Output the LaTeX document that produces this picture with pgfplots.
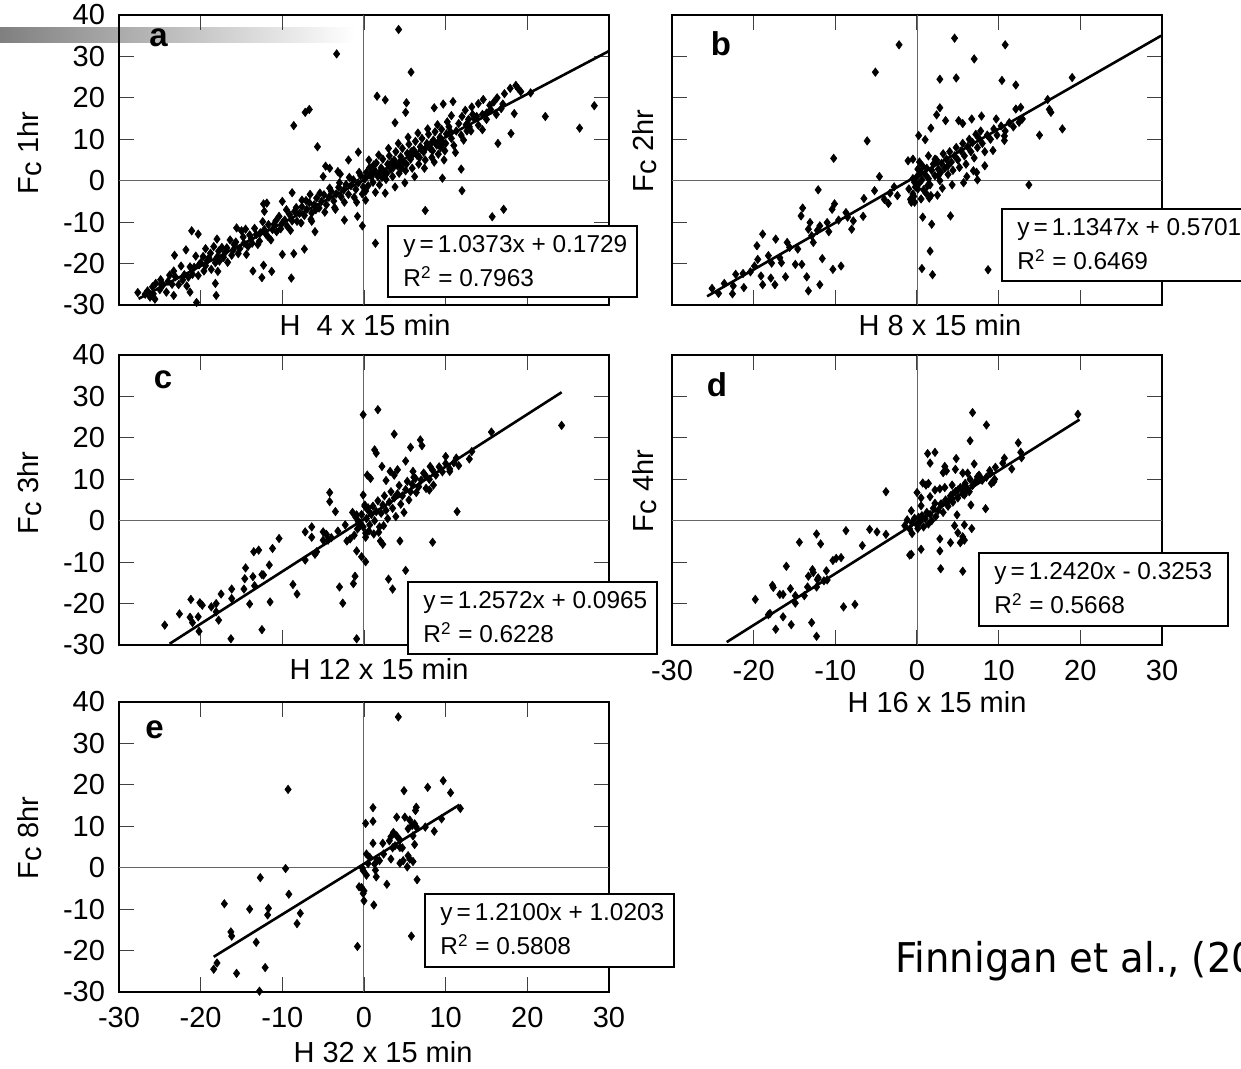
\documentclass[border=0pt]{standalone}
\usepackage{fontspec}
\setmainfont{Liberation Sans}
\newfontfamily\tahoma[FakeStretch=0.94]{DejaVu Sans}
\usepackage{pgfplots}
\pgfplotsset{compat=1.18}
\pgfplotsset{
  panel/.style={
    scale only axis, width=245pt, height=145pt, anchor=south west,
    xmin=-30, xmax=30, ymin=-30, ymax=40,
    xtick={-30,-20,...,30}, ytick={-30,-20,...,40},
    tick align=inside, major tick length=7.5pt,
    tick style={black!75, line width=0.6pt},
    axis line style={black, line width=0.9pt},
    ticklabel style={font=\fontsize{14.5}{17}\selectfont},
    /pgf/number format/assume math mode=true,
    xticklabel style={yshift=-4pt}, yticklabel style={xshift=-3.5pt},
  },
  pts/.style={only marks, mark=diamond*, mark size=2.1pt, black, mark options={fill=black, draw=black, line width=0.3pt}},
  reg/.style={black, line width=1.3pt},
}
\newcommand{\zerolines}{%
  \draw[black!60, line width=0.5pt] (axis cs:0,-30) -- (axis cs:0,40);
  \draw[black!60, line width=0.5pt] (axis cs:-30,0) -- (axis cs:30,0);}
\begin{document}
\begin{tikzpicture}
\path[use as bounding box] (0,0) rectangle (620.5pt,534.5pt);
\begin{scope}[shift={(0pt,534.5pt)}, x=0.5pt, y=-0.5pt]
\shade[left color=black!50, right color=white] (0,28) rectangle (355,43);
\end{scope}

% ---------- panel a ----------
\begin{axis}[panel, at={(59.5pt,382pt)}, xticklabels={}]
\zerolines
\addplot[pts] table {
4.24 36.5
-3.35 30.6
5.76 26.2
28.2 18.1
26.4 12.7
22.2 15.5
20.4 21.2
17.9 22.3
18.9 22.2
16.4 9.0
18.0 11.4
18.4 16.2
1.6 20.4
2.6 19.5
-7.2 16.5
-6.7 17.2
-8.6 13.3
-5.7 8.2
11.9 2.8
12.0 -2.4
9.6 0.6
7.5 -7.2
15.7 -8.7
17.1 -6.9
1.4 -15.1
-0.2 -10.9
-0.8 -8.6
14.5 12.3
14.0 18.6
15.9 19.0
3.8 14.0
5.1 16.5
5.2 18.8
8.6 17.6
9.7 18.5
10.9 19.1
10.7 15.7
-27.7 -27.0
-25.6 -28.6
-25.9 -25.6
-24.8 -25.1
-23.3 -27.7
-20.5 -29.4
-18.1 -27.7
-18.2 -24.8
-21.3 -26.9
-23.2 -18.0
-21.8 -16.7
-21.1 -12.1
-20.3 -12.9
-19.4 -16.4
-18.0 -14.1
-17.9 -21.9
-15.6 -11.4
-14.5 -11.7
-13.6 -21.8
-12.5 -23.4
-12.3 -20.4
-11.3 -21.9
-8.9 -23.5
-10.0 -17.8
-8.6 -17.6
-7.3 -16.5
-12.3 -5.6
-11.9 -5.4
-12.2 -7.4
-10.0 -5.0
-8.8 -2.9
-6.6 -3.3
-7.6 -4.7
-6.0 -12.3
-6.4 -9.8
-4.7 3.5
-4.2 3.0
-5.0 1.0
-1.9 5.0
-0.7 6.9
-3.2 2.2
-2.9 1.6
-3.5 -6.9
-2.4 -9.5
0.2 -4.7
-0.9 -5.2
-26.8 -27.4
-26.2 -28.1
-25.5 -24.8
-25.0 -26.3
-24.6 -25.1
-24.2 -26.9
-23.8 -22.8
-23.5 -25.0
-23.1 -23.2
-22.7 -25.1
-22.4 -20.6
-22.0 -22.7
-21.7 -25.4
-21.3 -20.8
-21.0 -22.6
-20.6 -18.2
-20.3 -22.9
-20.0 -19.8
-19.7 -18.3
-19.4 -20.5
-19.0 -18.6
-18.7 -21.4
-18.4 -15.9
-18.0 -18.5
-17.7 -19.4
-17.4 -16.1
-17.0 -17.3
-16.7 -19.7
-16.4 -14.3
-16.0 -16.7
-15.7 -14.8
-15.4 -17.6
-15.0 -12.1
-14.7 -15.1
-14.4 -17.8
-14.0 -13.1
-13.7 -15.1
-13.4 -11.5
-13.0 -15.4
-12.7 -12.6
-12.4 -9.9
-12.0 -12.9
-11.7 -10.6
-11.4 -14.3
-11.0 -10.5
-10.7 -12.3
-10.4 -8.6
-10.0 -10.2
-26.5 -26.6
-25.8 -27.3
-24.9 -23.9
-24.0 -24.3
-23.3 -21.8
-22.2 -24.0
-21.5 -23.3
-20.8 -20.9
-20.2 -20.3
-19.6 -21.8
-19.2 -19.3
-18.8 -17.5
-18.2 -19.8
-17.8 -17.0
-17.2 -18.5
-16.8 -16.2
-16.2 -18.0
-15.9 -15.4
-15.2 -16.4
-14.8 -13.6
-14.2 -15.9
-13.8 -14.0
-13.2 -13.0
-12.8 -14.6
-12.2 -11.8
-11.8 -13.4
-11.2 -11.8
-10.8 -9.7
-10.2 -11.6
-9.7 -9.5
-9.4 -11.0
-9.1 -8.2
-8.8 -9.7
-8.5 -7.4
-8.2 -9.8
-7.9 -7.9
-7.6 -6.3
-7.3 -8.4
-7.0 -6.9
-6.7 -5.3
-6.4 -7.8
-6.1 -5.8
-5.8 -4.2
-5.5 -6.6
-5.2 -5.0
-4.9 -3.4
-4.6 -5.8
-4.3 -4.0
-4.0 -2.6
-3.7 -4.9
-3.4 -3.2
-3.1 -1.6
-2.8 -3.9
-2.5 -2.3
-2.2 -0.9
-1.9 -3.3
-1.6 -1.2
-1.3 0.2
-1.0 -2.1
-0.7 -0.5
-0.4 1.2
-0.1 -1.5
-9.5 -7.0
-9.0 -12.0
-8.3 -6.5
-7.7 -10.2
-7.1 -4.8
-6.5 -9.3
-5.9 -7.0
-5.4 -3.0
-4.8 -7.6
-4.2 -1.8
-3.6 -6.5
-3.0 -0.5
-2.4 -5.2
-1.8 0.8
-1.2 -4.0
-0.6 2.0
-0.2 -3.2
0.1 0.4
0.3 2.0
0.5 -1.2
0.7 3.2
0.9 0.9
1.1 -0.4
1.3 2.5
1.5 4.3
1.7 1.0
1.9 -1.0
2.1 3.1
2.3 5.2
2.5 2.0
2.7 0.3
2.9 4.0
3.1 6.0
3.3 2.8
3.5 1.0
3.7 5.0
3.9 7.0
4.1 3.6
4.3 1.8
4.5 5.8
4.7 7.8
4.9 4.4
5.1 2.4
5.3 6.6
5.5 8.8
5.7 5.2
5.9 3.0
6.1 7.4
6.3 9.5
6.5 6.1
6.7 4.0
6.9 8.2
7.1 10.2
7.3 6.9
7.5 5.0
7.7 9.0
7.9 11.2
8.1 7.8
8.3 5.6
8.5 9.8
8.7 11.8
8.9 8.6
9.1 6.4
9.3 10.5
9.5 12.4
9.7 9.2
9.9 7.2
10.1 11.3
10.4 13.0
10.7 10.2
11.0 8.5
11.3 12.0
11.6 13.8
11.9 11.0
12.2 9.8
12.5 13.5
12.8 14.8
13.1 12.0
13.5 15.0
14.0 13.4
14.5 16.0
15.0 14.8
15.5 17.2
16.2 16.0
17.0 18.5
0.2 -2.5
0.6 5.0
1.0 1.8
1.4 -2.8
1.8 6.2
2.2 0.8
2.6 -3.0
3.0 7.8
3.4 4.4
3.8 -1.5
4.2 9.0
4.6 3.0
5.0 -0.5
5.4 10.5
5.8 7.0
6.2 1.0
6.6 11.5
7.0 7.5
7.4 3.0
7.8 12.5
8.2 9.0
8.6 4.5
9.0 13.5
9.4 8.0
9.8 5.0
10.2 14.2
10.6 11.8
11.2 6.8
12.0 15.5
12.6 12.0
13.3 16.0
0.4 1.2
1.2 3.8
2.0 2.2
2.8 1.8
3.6 3.2
4.4 4.6
5.2 4.0
6.0 6.4
6.8 5.6
7.6 8.0
8.4 7.2
9.2 9.6
10.0 9.0
12.4 17.0
13.2 17.8
14.6 19.6
15.4 18.2
16.3 20.0
17.2 21.0
18.6 23.0
19.2 21.5
16.8 17.4
13.8 15.5
12.9 13.0
15.0 16.3
};
\addplot[reg] coordinates {(-27.6,-28.5) (30,31.3)};
\end{axis}

% ---------- panel b ----------
\begin{axis}[panel, at={(336pt,382pt)}, xticklabels={}, yticklabels={}]
\zerolines
\addplot[pts] table {
4.6 34.4
-2.2 32.8
10.8 32.8
7.0 29.4
-5.1 26.2
2.8 24.5
4.8 24.8
10.4 24.2
12.1 23.1
19.0 24.9
16.0 19.6
16.2 17.2
16.4 16.5
17.8 12.5
15.0 11.0
12.1 17.3
12.7 17.7
12.5 14.1
12.9 14.9
-6.1 9.6
-10.2 5.4
-4.6 1.0
-12.1 -2.2
-5.2 -2.4
13.7 -1.0
7.4 0.2
0.7 -8.8
1.8 -10.5
4.1 -8.5
1.6 -17.0
0.6 -21.2
1.9 -22.7
8.7 -21.5
10.7 10.8
2.8 17.6
2.4 15.9
3.5 14.5
1.7 12.7
5.1 14.5
5.6 13.8
6.7 14.9
7.9 15.6
9.7 14.9
0.2 10.9
1.0 9.9
-1.1 4.8
-3.5 -5.5
-2.4 -3.6
-0.7 -4.8
-0.3 -5.2
-6.5 -4.3
-6.6 -8.6
-7.8 -9.7
-8.0 -11.7
-8.7 -7.7
-10.1 -5.6
-10.4 -6.9
-11.0 -10.1
-10.8 -12.3
-11.9 -10.9
-14.0 -6.6
-14.2 -8.5
-13.1 -10.1
-13.3 -11.7
-11.6 -18.8
-10.3 -21.4
-9.3 -20.6
-14.9 -20.2
-14.1 -20.2
-13.5 -23.2
-11.9 -25.1
-13.3 -26.6
-16.1 -23.2
-17.4 -25.1
-18.9 -25.1
-17.9 -23.5
-19.1 -23.0
-18.9 -12.9
-19.6 -15.7
-17.3 -14.1
-21.2 -25.8
-22.6 -27.3
-22.5 -25.4
-25.1 -26.0
-22.2 -22.6
-21.3 -22.4
-19.9 -20.6
-19.5 -19.0
-18.2 -18.1
-17.8 -19.9
-16.6 -19.8
-15.9 -14.9
-15.6 -16.1
-14.6 -16.5
-12.9 -13.3
-12.7 -14.9
-1.0 -2.0
-0.5 0.5
-0.2 -1.5
0.0 1.0
0.2 -0.8
0.4 2.0
0.6 0.2
0.8 -2.2
1.0 1.5
1.2 3.0
1.4 0.5
1.6 -1.0
1.8 2.5
2.0 4.0
2.2 1.2
2.4 5.0
2.6 2.8
2.8 0.0
3.0 4.2
3.2 6.5
3.4 3.0
3.6 5.2
3.8 1.5
4.0 7.0
4.2 4.5
4.4 2.5
4.6 6.0
4.8 8.0
5.0 5.0
5.2 3.2
5.4 7.2
5.6 9.0
5.8 6.0
6.0 4.0
6.2 8.2
6.4 10.0
6.6 7.0
6.8 9.2
7.0 5.5
7.2 11.2
7.4 8.0
7.6 10.2
7.8 12.0
8.0 9.0
8.3 7.0
8.6 11.0
9.0 10.0
9.4 12.5
9.8 11.0
10.3 13.2
10.8 12.0
11.3 14.0
11.8 13.0
0.3 4.5
0.7 3.5
1.1 -3.0
-0.8 -4.5
-0.4 -3.8
1.5 -4.2
2.5 -3.5
3.1 -1.8
4.3 -1.0
5.7 -0.5
6.1 1.0
6.9 2.4
7.3 2.0
8.3 3.6
9.3 7.3
10.7 9.7
-0.5 5.2
0.1 2.8
0.5 2.0
-0.3 -0.4
0.1 -2.0
-0.5 -3.2
-0.7 -5.2
0.5 -4.4
1.7 -3.6
1.3 -1.2
2.6 1.2
2.9 2.0
3.8 3.6
2.2 5.2
1.4 6.0
-2.8 -1.5
-3.3 -3.0
-4.0 -4.5
-8.5 -8.8
-9.6 -9.5
-20.4 -22.0
-23.6 -24.8
-24.3 -27.2
-16.8 -18.6
-12.2 -12.0
};
\addplot[reg] coordinates {(-25.7,-27.9) (29.9,35.0)};
\end{axis}

% ---------- panel c ----------
\begin{axis}[panel, at={(59.5pt,212pt)}, xticklabels={}]
\zerolines
\addplot[pts] table {
-0.1 25.6
1.7 26.8
24.2 23.0
3.7 20.9
15.6 21.4
6.9 19.5
7.1 18.1
5.7 17.7
1.3 17.1
1.5 16.3
5.1 14.4
10.0 15.5
11.3 15.1
13.2 16.7
12.9 14.9
11.6 13.3
10.5 11.9
8.1 13.1
2.2 13.1
3.2 11.9
4.1 12.3
3.7 11.0
0.4 11.0
0.8 10.2
2.7 9.7
6.0 11.9
6.3 10.2
7.5 11.0
8.5 8.6
8.0 7.4
-4.2 6.8
-4.2 4.6
-3.5 2.2
11.4 2.2
8.4 -5.2
4.4 -4.9
2.0 -4.9
2.3 -5.7
0.2 -4.0
-0.9 -7.3
-0.3 -8.7
0.2 -9.9
5.1 -12.0
3.0 -14.1
3.5 -16.5
-1.1 -13.4
-1.3 -15.2
-3.0 -16.0
-2.6 -19.9
-0.9 -28.5
-8.7 -15.4
-8.2 -17.7
-11.5 -19.6
-12.5 -26.3
-16.3 -28.5
-20.2 -26.7
-24.4 -25.2
-22.6 -22.5
-21.2 -19.0
-21.3 -23.3
-21.0 -24.6
-20.3 -23.2
-20.1 -19.8
-19.8 -20.4
-18.7 -20.8
-18.1 -20.0
-18.1 -22.0
-17.8 -24.0
-17.5 -17.7
-16.2 -16.5
-16.2 -18.8
-14.6 -14.0
-14.7 -16.5
-14.0 -20.1
-14.5 -11.4
-13.6 -13.5
-13.4 -15.7
-12.5 -13.0
-12.3 -13.1
-13.5 -7.5
-12.9 -7.1
-11.6 -10.7
-11.2 -6.7
-10.4 -4.3
-7.2 -2.7
-6.4 -1.5
-6.4 -4.0
-7.2 -9.5
-6.0 -8.1
-5.8 -7.5
-5.0 -2.7
-4.6 -3.3
-4.4 -4.7
-4.0 -4.1
-5.0 -4.7
-3.2 -2.5
-2.3 -1.0
-2.1 -4.9
-1.7 -4.4
-1.4 2.0
-0.7 -0.2
-0.6 -1.5
-0.9 1.4
0.1 3.8
0.5 3.1
-0.1 6.2
0.3 0.5
0.5 2.5
0.7 -1.0
0.9 1.5
1.1 3.5
1.3 0.0
1.5 2.2
1.7 4.8
1.9 -1.5
2.1 1.8
2.3 3.8
2.5 6.0
2.7 2.5
2.9 0.5
3.1 4.5
3.3 7.0
3.5 3.0
3.7 5.5
3.9 1.0
4.1 6.5
4.3 8.5
4.5 4.0
4.7 6.0
4.9 2.0
5.1 7.5
5.3 9.5
5.5 5.0
5.7 7.0
5.9 8.8
6.1 10.5
6.4 6.8
6.7 8.2
7.0 9.8
7.3 11.5
7.6 7.8
8.0 10.0
8.4 12.2
8.8 11.0
9.2 13.0
9.6 11.8
10.0 13.8
10.5 12.5
11.0 14.0
-0.5 -0.5
-0.8 -2.0
-1.0 0.8
-1.2 -3.5
-0.3 1.5
-0.1 -1.5
0.1 3.5
0.2 -3.0
0.6 -2.5
1.2 -3.2
1.8 -2.8
2.4 -1.2
};
\addplot[reg] coordinates {(-23.8,-29.7) (24.2,31.0)};
\end{axis}

% ---------- panel d ----------
\begin{axis}[panel, at={(336pt,212pt)}, yticklabels={}]
\zerolines
\addplot[pts] table {
19.7 25.7
6.8 26.1
8.5 23.1
6.5 19.3
12.4 18.8
12.7 16.5
12.8 15.2
10.7 15.1
10.5 13.9
11.6 12.5
9.6 12.9
8.9 12.1
1.3 16.2
2.2 16.5
1.6 13.9
4.8 15.0
7.0 13.7
3.4 13.1
3.2 11.6
3.6 12.0
4.7 12.4
5.6 11.5
6.2 11.5
7.4 10.6
7.9 9.9
9.4 9.4
9.1 9.0
0.7 9.1
1.4 9.0
1.1 8.6
2.2 7.4
2.8 7.7
3.4 8.0
-3.8 7.0
8.4 2.9
6.6 3.8
4.9 1.4
-0.7 2.4
0.5 3.6
2.2 4.2
3.0 4.0
3.8 4.6
4.2 5.4
0.0 6.8
0.5 5.5
1.6 5.8
4.3 8.6
4.4 6.5
5.0 7.4
5.6 7.8
6.0 8.2
5.8 6.2
6.4 7.0
4.6 -1.2
5.8 -1.0
6.7 -1.9
5.0 -2.9
5.6 -3.9
5.8 -4.7
5.3 -5.3
4.1 -5.3
2.8 -4.4
2.8 -7.3
0.5 -6.9
-0.7 -8.1
-0.9 -8.3
-0.6 -3.1
0.1 -1.9
2.9 -11.6
5.6 -12.2
-3.8 -3.3
-4.9 -2.7
-5.8 -2.1
-8.7 -2.4
-6.7 -6.0
-12.3 -3.2
-11.8 -5.6
-14.4 -5.2
-9.3 -8.9
-9.9 -9.1
-10.3 -9.6
-16.0 -11.0
-12.8 -11.8
-12.7 -12.5
-13.3 -13.4
-11.1 -12.1
-12.1 -13.8
-11.4 -14.5
-11.0 -14.3
-17.7 -15.6
-17.6 -16.1
-16.8 -17.8
-16.4 -17.8
-15.5 -16.4
-14.9 -18.1
-14.9 -19.9
-13.8 -18.1
-13.4 -16.0
-12.3 -16.0
-12.2 -14.2
-19.8 -19.0
-18.2 -22.7
-18.0 -22.4
-16.4 -23.2
-17.3 -26.2
-15.4 -25.1
-12.9 -24.6
-12.3 -27.9
-9.0 -20.8
-7.6 -20.2
-1.5 -1.2
-1.2 0.2
-0.9 -2.0
-0.6 -0.5
-0.3 0.6
0.0 -1.0
0.2 0.8
0.4 -0.2
0.6 1.2
0.8 -1.5
1.0 0.5
1.2 2.0
1.4 -0.8
1.6 1.5
1.8 0.0
2.0 3.0
2.3 1.0
2.6 2.5
2.9 4.0
3.2 2.0
3.5 5.0
3.8 3.5
4.1 6.0
4.4 4.5
4.7 7.0
5.0 5.5
5.3 8.0
5.6 6.5
5.9 9.0
6.2 7.5
6.5 10.0
6.8 8.5
7.2 9.5
7.6 11.0
8.0 9.8
8.5 10.5
9.0 11.5
9.5 10.0
};
\addplot[reg] coordinates {(-23.3,-29.3) (19.9,24.4)};
\end{axis}

% ---------- panel e ----------
\begin{axis}[panel, at={(59.5pt,38.5pt)}]
\zerolines
\addplot[pts] table {
4.2 36.4
-9.3 18.9
9.7 21.0
7.8 19.4
10.6 18.1
4.9 18.6
11.8 14.3
1.1 14.5
6.4 14.6
6.3 13.8
4.0 12.2
5.0 12.2
5.6 11.5
5.9 10.2
6.2 10.6
6.4 9.8
5.4 9.4
6.0 7.7
9.5 11.8
8.6 8.8
7.5 9.8
0.2 10.7
1.1 11.2
3.6 8.5
3.3 7.5
4.0 7.7
3.1 6.5
4.4 6.7
4.4 4.9
3.8 5.3
4.7 4.8
3.5 4.8
2.3 5.9
1.1 5.9
2.4 3.3
3.3 2.1
4.8 1.7
5.4 2.9
5.6 2.1
6.0 1.5
5.3 0.2
4.4 1.1
6.2 5.6
0.3 3.3
0.7 2.5
1.6 1.9
1.9 1.7
1.3 0.9
0.5 1.0
-0.2 -0.1
-0.1 -0.7
0.3 -1.8
1.4 -0.6
1.5 -2.2
2.8 -4.0
6.5 -2.9
-0.6 -4.6
-0.3 -4.8
0.0 -5.6
-0.1 -6.2
0.0 -8.0
1.2 -9.0
5.8 -16.5
-0.8 -19.0
-9.6 -0.2
-12.7 -2.4
-9.2 -6.4
-17.1 -8.7
-14.0 -10.0
-11.7 -9.8
-11.8 -11.4
-7.8 -11.0
-8.2 -13.5
-16.3 -15.5
-16.2 -16.5
-13.2 -18.0
-18.0 -23.0
-18.4 -24.5
-15.6 -25.5
-12.1 -24.1
-12.8 -29.8
};
\addplot[reg] coordinates {(-18.4,-21.5) (11.7,15.2)};
\end{axis}

\begin{scope}[shift={(0pt,534.5pt)}, x=0.5pt, y=-0.5pt]
% panel letters
\begin{scope}[every node/.style={font=\bfseries\fontsize{16.5}{18}\selectfont}]
\node at (158.5,37.5) {a};
\node at (721,44) {b};
\node at (163,380) {c};
\node at (717,385) {d};
\node at (154.5,730) {e};
\end{scope}
% axis labels
\begin{scope}[every node/.style={font=\fontsize{14.5}{17}\selectfont}]
\node[anchor=base] at (365,336) {H\ \ 4 x 15 min};
\node[anchor=base] at (940,336) {H 8 x 15 min};
\node[anchor=base] at (379,680) {H 12 x 15 min};
\node[anchor=base] at (937,713) {H 16 x 15 min};
\node[anchor=base] at (383,1063) {H 32 x 15 min};
\node[anchor=base, rotate=90] at (38,153) {F\raisebox{-0.25ex}{c} 1hr};
\node[anchor=base, rotate=90] at (653,151) {F\raisebox{-0.25ex}{c} 2hr};
\node[anchor=base, rotate=90] at (38,493) {F\raisebox{-0.25ex}{c} 3hr};
\node[anchor=base, rotate=90] at (653,491) {F\raisebox{-0.25ex}{c} 4hr};
\node[anchor=base, rotate=90] at (38,838) {F\raisebox{-0.25ex}{c} 8hr};
\end{scope}
% regression boxes
\begin{scope}[every node/.style={font=\fontsize{12.2}{14}\selectfont, anchor=base west, inner sep=0pt}]
\draw[fill=white, line width=0.6pt] (388,226) rectangle (637,297);
\node at (403,253) {y\,=\,1.0373x + 0.1729};
\node at (403,287) {R\textsuperscript{2} = 0.7963};
\draw[fill=white, line width=0.6pt] (1002,209) rectangle (1251,281);
\node at (1017,236) {y\,=\,1.1347x + 0.5701};
\node at (1017,270) {R\textsuperscript{2} = 0.6469};
\draw[fill=white, line width=0.6pt] (408,582) rectangle (657,654);
\node at (423,609) {y\,=\,1.2572x + 0.0965};
\node at (423,643) {R\textsuperscript{2} = 0.6228};
\draw[fill=white, line width=0.6pt] (979,553) rectangle (1228,626);
\node at (994,580) {y\,=\,1.2420x - 0.3253};
\node at (994,614) {R\textsuperscript{2} = 0.5668};
\draw[fill=white, line width=0.6pt] (425,894) rectangle (674,967);
\node at (440,921) {y\,=\,1.2100x + 1.0203};
\node at (440,955) {R\textsuperscript{2} = 0.5808};
\end{scope}
\node[anchor=base west, inner sep=0pt, font=\tahoma\fontsize{20.5}{24}\selectfont] at (895,973) {Finnigan et al., (2003)};
\end{scope}
\end{tikzpicture}
\end{document}
